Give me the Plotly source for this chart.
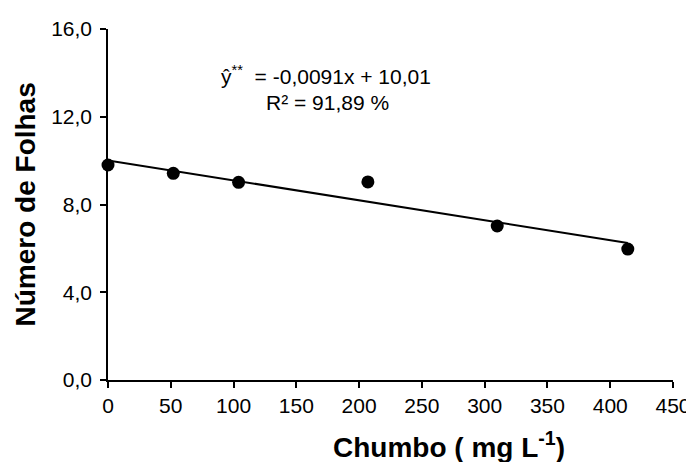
import plotly.graph_objects as go
import numpy as np

chumbo = [0, 52, 104, 207, 310, 414]
folhas = [9.8, 9.42, 9.01, 9.03, 7.02, 5.97]
slope = -0.0091
intercept = 10.01
x_fit = np.array([0, 414])
y_fit = intercept + slope * x_fit

x_ticks = [0, 50, 100, 150, 200, 250, 300, 350, 400, 450]
y_ticks = [0, 4, 8, 12, 16]

font_family = "Liberation Sans, Arial, sans-serif"

fig = go.Figure()
fig.add_trace(go.Scatter(x=x_fit, y=y_fit, mode="lines",
                         line=dict(color="black", width=2), showlegend=False,
                         cliponaxis=False))
fig.add_trace(go.Scatter(x=chumbo, y=folhas, mode="markers",
                         marker=dict(color="black", size=13), showlegend=False,
                         cliponaxis=False))

fig.add_annotation(x=174, y=13.9, xref="x", yref="y",
                   text="ŷ<sup>**</sup>\u00a0 = -0,0091x + 10,01",
                   showarrow=False, align="center",
                   font=dict(family=font_family, size=21, color="black"))
fig.add_annotation(x=175, y=12.67, xref="x", yref="y",
                   text="R² = 91,89 %",
                   showarrow=False, align="center",
                   font=dict(family=font_family, size=21, color="black"))

fig.add_annotation(x=(449 - 108) / 565, y=-0.185, xref="paper", yref="paper",
                   text="<b>Chumbo ( mg L<sup>-1</sup>)</b>", showarrow=False,
                   xanchor="center", yanchor="middle",
                   font=dict(family=font_family, size=28, color="black"))
fig.add_annotation(x=(25 - 108) / 565, y=0.5, xref="paper", yref="paper",
                   text="<b>Número de Folhas</b>", showarrow=False, textangle=-90,
                   xanchor="center", yanchor="middle",
                   font=dict(family=font_family, size=28, color="black"))

fig.update_layout(
    width=694, height=462,
    margin=dict(l=100, r=29, t=21, b=90),
    paper_bgcolor="white", plot_bgcolor="white",
    separators=",.",
    font=dict(family=font_family, color="black"),
    xaxis=dict(range=[0, 450], tickvals=x_ticks, ticktext=[str(v) for v in x_ticks],
               automargin=False,
               showgrid=False, zeroline=False, showline=True, linecolor="black",
               linewidth=1.5, ticks="outside", ticklen=6, tickcolor="black",
               tickwidth=1.5, tickfont=dict(size=21, family=font_family, color="black")),
    yaxis=dict(range=[0, 16], tickvals=y_ticks, tickformat=".1f",
               automargin=False, ticklabelstandoff=4,
               showgrid=False, zeroline=False, showline=True, linecolor="black",
               linewidth=1.5, ticks="outside", ticklen=6, tickcolor="black",
               tickwidth=1.5, tickfont=dict(size=21, family=font_family, color="black")),
)

fig.write_html("out.html")
